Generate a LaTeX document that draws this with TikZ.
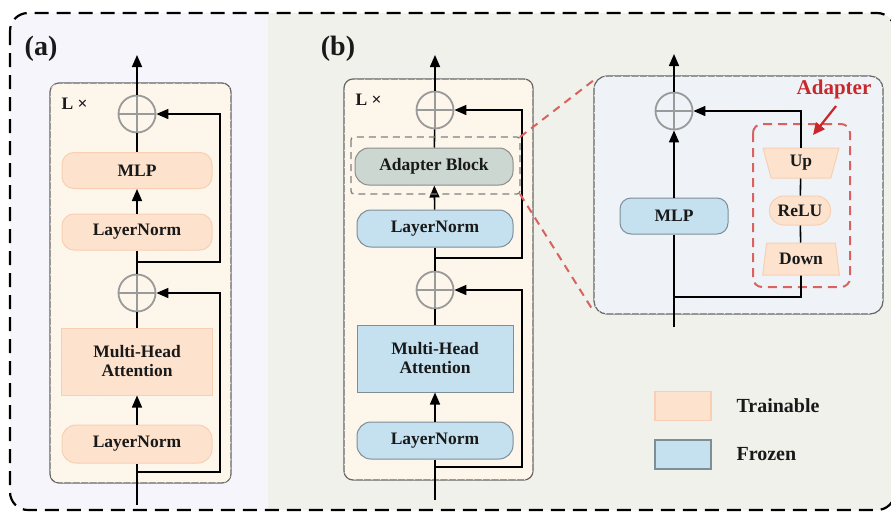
\documentclass[tikz,border=0pt]{standalone}
\usepackage{fontspec}
\setmainfont{Liberation Serif}
\usetikzlibrary{positioning, arrows.meta, shapes.geometric, patterns.meta}

\definecolor{peach}{HTML}{FDE3CE}
\definecolor{peachline}{HTML}{F8CFB2}
\definecolor{frozen}{HTML}{C5E1EF}
\definecolor{frozenline}{HTML}{7E8E96}
\definecolor{adaptfill}{HTML}{CCD7D1}
\definecolor{blockfill}{HTML}{FDF6EB}
\definecolor{detailfill}{HTML}{EEF3F7}
\definecolor{bgleft}{HTML}{F5F5FB}
\definecolor{bgright}{HTML}{EFF1EA}
\definecolor{adaptred}{HTML}{C8282B}
\definecolor{dashred}{HTML}{D9625F}
\definecolor{addgray}{HTML}{9A9A9A}

\tikzset{
  every node/.style={font=\fontsize{17.5}{19}\selectfont\bfseries, text=black!90},
  hatch/.style={postaction={pattern={Lines[angle=45,distance=6pt,line width=0.5pt]}, pattern color=#1}},
  blockbox/.style={draw=black!60, line width=1.2pt, rounded corners=9pt, fill=blockfill, hatch=orange!8},
  trainbox/.style={draw=peachline, fill=peach, line width=1pt, rounded corners=12pt, minimum width=150pt, minimum height=36pt},
  frozenbox/.style={draw=frozenline, fill=frozen, line width=1pt, rounded corners=14pt, minimum width=156pt, minimum height=37pt},
  trapbox/.style={trapezium, trapezium stretches=true, trapezium angle=79, fill=peach, draw=peachline, line width=1pt, inner sep=1pt},
  addop/.style={circle, draw=addgray, line width=1.8pt, minimum size=37pt, inner sep=0pt,
    path picture={\draw[addgray, line width=1.5pt]
      (path picture bounding box.north) -- (path picture bounding box.south)
      (path picture bounding box.west) -- (path picture bounding box.east);}},
  flow/.style={line width=1.6pt, black},
  arr/.style={flow, -{Triangle[length=12pt,width=10pt]}},
  panel/.style={font=\fontsize{28}{30}\selectfont\bfseries, text=black!90},
}

\begin{document}
\begin{tikzpicture}[x=1pt, y=-1pt]
  \useasboundingbox (0,0) rectangle (891,512);

  % backdrop and dashed frame
  \begin{scope}
    \clip[rounded corners=18pt] (10,13) rectangle (895,510);
    \fill[bgleft] (0,0) rectangle (268,512);
    \fill[bgright] (268,0) rectangle (891,512);
  \end{scope}
  \draw[line width=2.2pt, dash pattern=on 14pt off 8pt, rounded corners=18pt] (10,13) rectangle (895,510);

  % ---------------- (a) ----------------
  \node[panel] (labA) at (41,49) {(a)};
  \draw[blockbox] (50,83) rectangle (231,483);
  \node[anchor=west] (repA) at (58,104) {L ×};

  \node[addop] (addA1) at (137,114) {};
  \node[trainbox] (mlpA) at (137,170.5) {MLP};
  \node[trainbox] (lnA1) at (137,232) {LayerNorm};
  \node[addop] (addA2) at (137,293) {};
  \node[trainbox, rounded corners=0pt, minimum height=67pt, minimum width=151pt, align=center] (mhaA) at (137,361.5) {Multi-Head\\Attention};
  \node[trainbox, minimum height=38pt, rounded corners=14pt] (lnA2) at (137,444) {LayerNorm};

  \coordinate (outA) at (137,55);
  \coordinate (inA) at (137,505);
  \coordinate (brA1) at (137,262);
  \coordinate (brA2) at (137,472);

  \draw[arr] (addA1) -- (outA);
  \draw[flow] (mlpA) -- (addA1);
  \draw[arr] (lnA1) -- (mlpA);
  \draw[flow] (addA2) -- (lnA1);
  \draw[flow] (mhaA) -- (addA2);
  \draw[arr] (lnA2) -- (mhaA);
  \draw[flow] (inA) -- (lnA2);
  \draw[arr] (brA1) -- (220,262) |- (addA1.east);
  \draw[arr] (brA2) -- (220,472) |- (addA2.east);

  % ---------------- (b) ----------------
  \node[panel] (labB) at (338,49) {(b)};
  \draw[blockbox] (344,79) rectangle (533,480);
  \node[anchor=west] (repB) at (352,100) {L ×};

  \node[addop] (addB1) at (435,110) {};
  \node[frozenbox, fill=adaptfill, draw=black!45, minimum width=158pt] (adaptB) at (434,166.5) {Adapter Block};
  \node[frozenbox] (lnB1) at (435,228.5) {LayerNorm};
  \node[addop] (addB2) at (435,290) {};
  \node[frozenbox, rounded corners=0pt, minimum height=67pt, align=center] (mhaB) at (435,358.5) {Multi-Head\\Attention};
  \node[frozenbox] (lnB2) at (435,440.5) {LayerNorm};

  \coordinate (outB) at (435,55);
  \coordinate (inB) at (435,500);
  \coordinate (brB1) at (435,258);
  \coordinate (brB2) at (435,467);

  \draw[arr] (addB1) -- (outB);
  \draw[flow] (adaptB) -- (addB1);
  \draw[arr] (lnB1) -- (adaptB);
  \draw[flow] (addB2) -- (lnB1);
  \draw[flow] (mhaB) -- (addB2);
  \draw[arr] (lnB2) -- (mhaB);
  \draw[flow] (inB) -- (lnB2);
  \draw[arr] (brB1) -- (522,258) |- (addB1.east);
  \draw[arr] (brB2) -- (522,467) |- (addB2.east);

  \draw[black!50, line width=1.3pt, dash pattern=on 7pt off 5pt, rounded corners=3pt] (351,137) rectangle (520,194);

  % ---------------- zoomed adapter ----------------
  \draw[blockbox, fill=detailfill, hatch=blue!6, rounded corners=13pt] (594,76) rectangle (883,314);
  \draw[dashred, line width=2pt, dash pattern=on 8pt off 6pt] (520,137) -- (594,80);
  \draw[dashred, line width=2pt, dash pattern=on 8pt off 6pt] (520,194) -- (594,312);

  \node[addop] (addC) at (674,111) {};
  \node[frozenbox, minimum width=108pt, minimum height=36pt, rounded corners=11pt] (mlpC) at (674,216) {MLP};
  \node[trapbox, shape border rotate=180, minimum width=76pt, minimum height=30pt] (upC) at (801,163) {Up};
  \node[trainbox, minimum width=61pt, minimum height=29pt, rounded corners=14pt] (reluC) at (800,210.5) {ReLU};
  \node[trapbox, minimum width=77pt, minimum height=32pt] (downC) at (801,259) {Down};
  \draw[dashred, line width=2pt, dash pattern=on 9pt off 6pt, rounded corners=9pt] (753,124) rectangle (850,287);
  \node[text=adaptred, font=\fontsize{21}{23}\selectfont\bfseries] (adaptLab) at (834,89) {Adapter};

  \coordinate (outC) at (674,54);
  \coordinate (inC) at (674,327);
  \coordinate (brC) at (674,297);

  \draw[arr] (addC) -- (outC);
  \draw[arr] (mlpC) -- (addC);
  \draw[flow] (inC) -- (mlpC);
  \draw[flow] (brC) -- (801,297) -- (downC.south);
  \draw[flow] (downC) -- (reluC);
  \draw[flow] (reluC) -- (upC);
  \draw[arr] (upC.north) |- (addC.east);
  \draw[adaptred, line width=2.2pt, -{Triangle[length=12pt,width=11pt]}] (adaptLab.south) ++(2,4) -- (813,135);

  % ---------------- legend ----------------
  \foreach \name/\fillc/\linec/\yy/\txt in {train/peach/peachline/406/Trainable, froz/frozen/frozenline/454.5/Frozen}{
    \node[draw=\linec, fill=\fillc, line width=1.5pt, minimum width=56pt, minimum height=29pt] (\name Key) at (683,\yy) {};
    \node[anchor=west, font=\fontsize{20}{22}\selectfont\bfseries] (\name Txt) at (733,\yy) {\txt};
  }
\end{tikzpicture}
\end{document}
